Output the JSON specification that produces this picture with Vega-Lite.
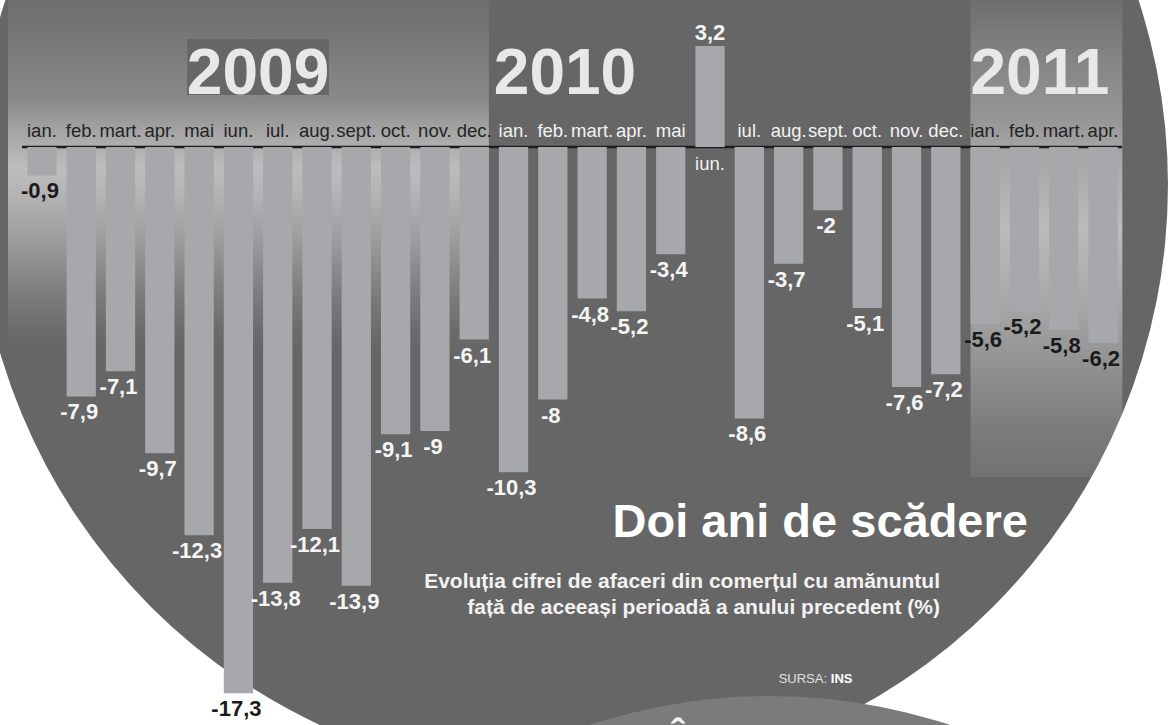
{
  "$schema": "https://vega.github.io/schema/vega-lite/v6.json",
  "width": 1169,
  "height": 725,
  "autosize": {"type": "none"},
  "padding": 0,
  "background": "#ffffff",
  "config": {
    "view": {"stroke": null},
    "locale": {"number": {"decimal": ",", "thousands": ".", "grouping": [3], "currency": ["", " lei"], "minus": "-"}}
  },
  "data": {
    "values": [
      {"key": "ian. 2009", "year": 2009, "month": "ian.", "v": -0.9},
      {"key": "feb. 2009", "year": 2009, "month": "feb.", "v": -7.9},
      {"key": "mart. 2009", "year": 2009, "month": "mart.", "v": -7.1},
      {"key": "apr. 2009", "year": 2009, "month": "apr.", "v": -9.7},
      {"key": "mai 2009", "year": 2009, "month": "mai", "v": -12.3},
      {"key": "iun. 2009", "year": 2009, "month": "iun.", "v": -17.3},
      {"key": "iul. 2009", "year": 2009, "month": "iul.", "v": -13.8},
      {"key": "aug. 2009", "year": 2009, "month": "aug.", "v": -12.1},
      {"key": "sept. 2009", "year": 2009, "month": "sept.", "v": -13.9},
      {"key": "oct. 2009", "year": 2009, "month": "oct.", "v": -9.1},
      {"key": "nov. 2009", "year": 2009, "month": "nov.", "v": -9},
      {"key": "dec. 2009", "year": 2009, "month": "dec.", "v": -6.1},
      {"key": "ian. 2010", "year": 2010, "month": "ian.", "v": -10.3},
      {"key": "feb. 2010", "year": 2010, "month": "feb.", "v": -8},
      {"key": "mart. 2010", "year": 2010, "month": "mart.", "v": -4.8},
      {"key": "apr. 2010", "year": 2010, "month": "apr.", "v": -5.2},
      {"key": "mai 2010", "year": 2010, "month": "mai", "v": -3.4},
      {"key": "iun. 2010", "year": 2010, "month": "iun.", "v": 3.2},
      {"key": "iul. 2010", "year": 2010, "month": "iul.", "v": -8.6},
      {"key": "aug. 2010", "year": 2010, "month": "aug.", "v": -3.7},
      {"key": "sept. 2010", "year": 2010, "month": "sept.", "v": -2},
      {"key": "oct. 2010", "year": 2010, "month": "oct.", "v": -5.1},
      {"key": "nov. 2010", "year": 2010, "month": "nov.", "v": -7.6},
      {"key": "dec. 2010", "year": 2010, "month": "dec.", "v": -7.2},
      {"key": "ian. 2011", "year": 2011, "month": "ian.", "v": -5.6},
      {"key": "feb. 2011", "year": 2011, "month": "feb.", "v": -5.2},
      {"key": "mart. 2011", "year": 2011, "month": "mart.", "v": -5.8},
      {"key": "apr. 2011", "year": 2011, "month": "apr.", "v": -6.2}
    ]
  },
  "layer": [
    {
      "data": {"values": [{}]},
      "mark": {"type": "point", "shape": "circle", "filled": true, "color": "#666666", "opacity": 1, "size": 1420864},
      "encoding": {
        "x": {"datum": "feb. 2010", "type": "nominal", "bandPosition": 1.154, "axis": null,
          "scale": {"type": "band", "paddingInner": 0.255, "paddingOuter": 1, "align": 0.347,
            "domain": ["ian. 2009","feb. 2009","mart. 2009","apr. 2009","mai 2009","iun. 2009","iul. 2009","aug. 2009","sept. 2009","oct. 2009","nov. 2009","dec. 2009","ian. 2010","feb. 2010","mart. 2010","apr. 2010","mai 2010","iun. 2010","iul. 2010","aug. 2010","sept. 2010","oct. 2010","nov. 2010","dec. 2010","ian. 2011","feb. 2011","mart. 2011","apr. 2011"]}},
        "y": {"datum": -1.204, "type": "quantitative", "axis": null, "scale": {"domain": [-18.309, 4.656], "nice": false, "zero": false}}
      }
    },
    {
      "data": {"values": [{}]},
      "mark": {"type": "point", "shape": "circle", "filled": true, "color": "#7b7b7b", "opacity": 1, "size": 1336336},
      "encoding": {
        "x": {"datum": "iul. 2010", "type": "nominal", "bandPosition": 1.2},
        "y": {"datum": -35.7, "type": "quantitative"}
      }
    },
    {
      "data": {"values": [{}]},
      "mark": {"type": "text", "text": "Â", "font": "Liberation Sans", "fontWeight": "bold", "fontSize": 40, "color": "#f4f4f4", "align": "center", "baseline": "alphabetic"},
      "encoding": {
        "x": {"datum": "mai 2010", "type": "nominal", "bandPosition": 0.75},
        "y": {"datum": -19.23, "type": "quantitative"}
      }
    },
    {
      "data": {"values": [{}]},
      "mark": {"type": "rect", "fill": {"gradient": "linear", "x1": 0, "y1": 0, "x2": 0, "y2": 1, "stops": [
        {"offset": 0, "color": "rgba(255,255,255,0.05)"},
        {"offset": 0.15, "color": "rgba(255,255,255,0.14)"},
        {"offset": 0.29, "color": "rgba(255,255,255,0.24)"},
        {"offset": 0.38, "color": "rgba(255,255,255,0.42)"},
        {"offset": 0.48, "color": "rgba(255,255,255,0.57)"},
        {"offset": 0.56, "color": "rgba(255,255,255,0.5)"},
        {"offset": 0.69, "color": "rgba(255,255,255,0.35)"},
        {"offset": 0.83, "color": "rgba(255,255,255,0.16)"},
        {"offset": 0.95, "color": "rgba(255,255,255,0.03)"},
        {"offset": 1, "color": "rgba(255,255,255,0)"}
      ]}},
      "encoding": {
        "x": {"datum": "ian. 2009", "type": "nominal", "bandPosition": -0.66},
        "x2": {"datum": "dec. 2009", "bandPosition": 1},
        "y": {"datum": 4.656, "type": "quantitative"},
        "y2": {"datum": -6.43}
      }
    },
    {
      "data": {"values": [{}]},
      "mark": {"type": "rect", "fill": {"gradient": "linear", "x1": 0, "y1": 0, "x2": 0, "y2": 1, "stops": [
        {"offset": 0, "color": "rgba(255,255,255,0.05)"},
        {"offset": 0.126, "color": "rgba(255,255,255,0.2)"},
        {"offset": 0.25, "color": "rgba(255,255,255,0.31)"},
        {"offset": 0.31, "color": "rgba(255,255,255,0.41)"},
        {"offset": 0.48, "color": "rgba(255,255,255,0.56)"},
        {"offset": 0.63, "color": "rgba(255,255,255,0.43)"},
        {"offset": 0.78, "color": "rgba(255,255,255,0.27)"},
        {"offset": 0.9, "color": "rgba(255,255,255,0.14)"},
        {"offset": 1, "color": "rgba(255,255,255,0.08)"}
      ]}},
      "encoding": {
        "x": {"datum": "ian. 2011", "type": "nominal", "bandPosition": 0},
        "x2": {"datum": "apr. 2011", "bandPosition": 1.16},
        "y": {"datum": 4.656, "type": "quantitative"},
        "y2": {"datum": -10.45}
      }
    },
    {
      "data": {"values": [{}]},
      "mark": {"type": "rect", "color": "#676767"},
      "encoding": {
        "x": {"datum": "iun. 2009", "type": "nominal", "bandPosition": -1.25},
        "x2": {"datum": "iul. 2009", "bandPosition": 2.25},
        "y": {"datum": 3.421, "type": "quantitative"},
        "y2": {"datum": 1.647}
      }
    },
    {
      "data": {"values": [{}]},
      "mark": {"type": "text", "text": "2009", "font": "Liberation Sans", "fontWeight": "bold", "fontSize": 64, "color": "#e8e8e8", "align": "center", "baseline": "alphabetic"},
      "encoding": {
        "x": {"datum": "iun. 2009", "type": "nominal", "bandPosition": 1.17},
        "y": {"datum": 1.679, "type": "quantitative"}
      }
    },
    {
      "data": {"values": [{}]},
      "mark": {"type": "text", "text": "2010", "font": "Liberation Sans", "fontWeight": "bold", "fontSize": 64, "color": "#e8e8e8", "align": "center", "baseline": "alphabetic"},
      "encoding": {
        "x": {"datum": "feb. 2010", "type": "nominal", "bandPosition": 0.915},
        "y": {"datum": 1.679, "type": "quantitative"}
      }
    },
    {
      "data": {"values": [{}]},
      "mark": {"type": "text", "text": "2011", "font": "Liberation Sans", "fontWeight": "bold", "fontSize": 64, "color": "#e8e8e8", "align": "center", "baseline": "alphabetic"},
      "encoding": {
        "x": {"datum": "feb. 2011", "type": "nominal", "bandPosition": 1.03},
        "y": {"datum": 1.679, "type": "quantitative"}
      }
    },
    {
      "data": {"values": [{}]},
      "mark": {"type": "rule", "color": "#1c1c1c", "strokeWidth": 2.5},
      "encoding": {
        "x": {"datum": "ian. 2009", "type": "nominal", "bandPosition": -0.18},
        "x2": {"datum": "apr. 2011", "bandPosition": 1.15},
        "y": {"datum": 0, "type": "quantitative"}
      }
    },
    {
      "mark": {"type": "bar", "color": "#a7a8ac"},
      "encoding": {
        "x": {"field": "key", "type": "nominal"},
        "y": {"field": "v", "type": "quantitative"},
        "y2": {"datum": 0}
      }
    },
    {
      "transform": [{"filter": "datum.v < 0"}],
      "mark": {"type": "text", "font": "Liberation Sans", "fontWeight": "bold", "fontSize": 22, "align": "center", "baseline": "alphabetic", "dy": 23, "dx": -2},
      "encoding": {
        "x": {"field": "key", "type": "nominal"},
        "y": {"field": "v", "type": "quantitative"},
        "text": {"field": "v", "type": "quantitative", "format": ".1~f"},
        "color": {"condition": {"test": "datum.year == 2011 || datum.key == 'ian. 2009' || datum.key == 'iun. 2009'", "value": "#1a1a1a"}, "value": "#f5f5f5"}
      }
    },
    {
      "transform": [{"filter": "datum.v >= 0"}],
      "mark": {"type": "text", "font": "Liberation Sans", "fontWeight": "bold", "fontSize": 22, "align": "center", "baseline": "alphabetic", "dy": -6, "color": "#f5f5f5"},
      "encoding": {
        "x": {"field": "key", "type": "nominal"},
        "y": {"field": "v", "type": "quantitative"},
        "text": {"field": "v", "type": "quantitative", "format": ".1~f"}
      }
    },
    {
      "transform": [{"filter": "datum.v < 0"}],
      "mark": {"type": "text", "font": "Liberation Sans", "fontSize": 18.5, "align": "center", "baseline": "alphabetic", "dy": -10},
      "encoding": {
        "x": {"field": "key", "type": "nominal"},
        "y": {"datum": 0, "type": "quantitative"},
        "text": {"field": "month"},
        "color": {"condition": {"test": "datum.year == 2010", "value": "#f2f2f2"}, "value": "#242424"}
      }
    },
    {
      "transform": [{"filter": "datum.v >= 0"}],
      "mark": {"type": "text", "font": "Liberation Sans", "fontSize": 18.5, "align": "center", "baseline": "alphabetic", "dy": 23, "color": "#f2f2f2"},
      "encoding": {
        "x": {"field": "key", "type": "nominal"},
        "y": {"datum": 0, "type": "quantitative"},
        "text": {"field": "month"}
      }
    },
    {
      "data": {"values": [{}]},
      "mark": {"type": "text", "text": "Doi ani de scădere", "font": "Liberation Sans", "fontWeight": "bold", "fontSize": 47, "color": "#ffffff", "align": "right", "baseline": "alphabetic"},
      "encoding": {
        "x": {"datum": "feb. 2011", "type": "nominal", "bandPosition": 0.62},
        "y": {"datum": -12.354, "type": "quantitative"}
      }
    },
    {
      "data": {"values": [{}]},
      "mark": {"type": "text", "text": ["Evoluția cifrei de afaceri din comerțul cu amănuntul", "față de aceeași perioadă a anului precedent (%)"], "lineHeight": 26, "font": "Liberation Sans", "fontWeight": "bold", "fontSize": 21, "color": "#f2f2f2", "align": "right", "baseline": "alphabetic"},
      "encoding": {
        "x": {"datum": "dec. 2010", "type": "nominal", "bandPosition": 0.3},
        "y": {"datum": -13.969, "type": "quantitative"}
      }
    },
    {
      "data": {"values": [{}]},
      "mark": {"type": "text", "text": "SURSA:", "font": "Liberation Sans", "fontSize": 13, "color": "#e0e0e0", "align": "right", "baseline": "alphabetic"},
      "encoding": {
        "x": {"datum": "sept. 2010", "type": "nominal", "bandPosition": 0.47},
        "y": {"datum": -16.978, "type": "quantitative"}
      }
    },
    {
      "data": {"values": [{}]},
      "mark": {"type": "text", "text": "INS", "font": "Liberation Sans", "fontWeight": "bold", "fontSize": 13, "color": "#ffffff", "align": "left", "baseline": "alphabetic"},
      "encoding": {
        "x": {"datum": "sept. 2010", "type": "nominal", "bandPosition": 0.6},
        "y": {"datum": -16.978, "type": "quantitative"}
      }
    }
  ]
}
